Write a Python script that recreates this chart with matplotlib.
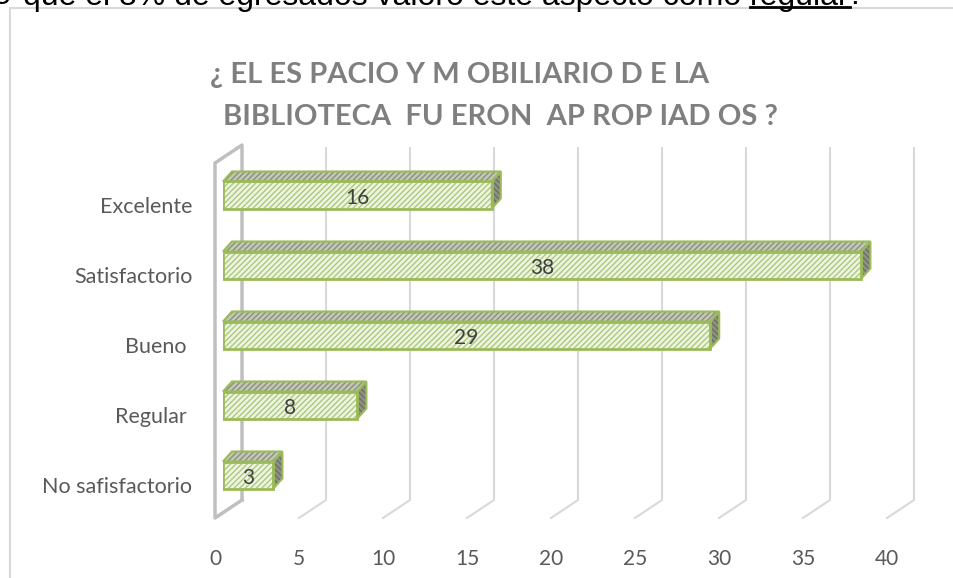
import numpy as np
import matplotlib
matplotlib.use("Agg")
import matplotlib.pyplot as plt
from matplotlib.patches import Polygon, Rectangle
from matplotlib.transforms import ScaledTranslation

# datos
categorias = ["No safisfactorio", "Regular ", "Bueno ", "Satisfactorio", "Excelente"]
valores = [3, 8, 29, 38, 16]
ticks_x = [0, 5, 10, 15, 20, 25, 30, 35, 40]
titulo_1 = "¿ EL ES PACIO Y M OBILIARIO D E LA"
titulo_2 = "BIBLIOTECA  FU ERON  AP ROP IAD OS ?"
texto_ini = "e"
texto_sup = "que el 8% de egresados valoró este aspecto como "
texto_sub = "regular"

W, H = 954, 578
fig = plt.figure(figsize=(W / 100, H / 100), dpi=100)
plt.rcParams['font.family'] = ['Lato', 'DejaVu Sans']

# ejes: x=0 en px 223, 16.8 px por unidad; y: 70 px por categoria
px_x = 16.8
px_y = 70.0
left = 223
bot_px = 475 + 0.5 * px_y
ax = fig.add_axes([left / W, (H - bot_px) / H, 40 * px_x / W, 5 * px_y / H])
ax.set_xlim(0, 40)
ax.set_ylim(-0.5, 4.5)
for s in ax.spines.values():
    s.set_visible(False)
ax.patch.set_alpha(0)

def dpx(x):
    return x / px_x

def dpy(y):
    return y / px_y

# marco del grafico
fig.patches.append(Rectangle((10 / W, -0.1), 1.2, (H - 8) / H + 0.1, transform=fig.transFigure,
                             fill=False, edgecolor='#d9d9d9', linewidth=1.5))

# texto superior cortado
fs_sup = 23
base = 1 - 4.5 / H
fig.text(-7 / W, base, texto_ini, family='Liberation Sans', fontsize=fs_sup, va='baseline', color='black')
t1 = fig.text(23 / W, base, texto_sup, family='Liberation Sans', fontsize=fs_sup,
              va='baseline', ha='left', color='black')
fig.canvas.draw()
bb = t1.get_window_extent()
t2 = fig.text(bb.x1 / W, base, texto_sub, family='Liberation Sans', fontsize=fs_sup,
              va='baseline', ha='left', color='black')
fig.canvas.draw()
bb2 = t2.get_window_extent()
fig.lines.append(plt.Line2D([bb2.x0 / W, bb2.x1 / W], [1 - 6.5 / H, 1 - 6.5 / H],
                            transform=fig.transFigure, color='black', linewidth=2))
fig.text(bb2.x1 / W, base, ".", family='Liberation Sans', fontsize=fs_sup, va='baseline')

# titulo
fig.text(460 / W, 1 - 75 / H, titulo_1, fontsize=21, fontweight='bold', color='#7f7f7f',
         ha='center', va='center')
fig.text(500 / W, 1 - 117 / H, titulo_2, fontsize=21, fontweight='bold', color='#7f7f7f',
         ha='center', va='center')

# pared y cuadricula (plano trasero)
y_top_back = (475 - 148) / px_y
y_bot_back = (475 - 500) / px_y
y_bot_front = (475 - 518) / px_y
dxb = dpx(19)
dxf = dpx(-8)
for t in ticks_x[1:]:
    ax.plot([t + dxb, t + dxb, t + dxf], [y_top_back, y_bot_back, y_bot_front],
            color='#d9d9d9', linewidth=1.5, clip_on=False, zorder=1)
# pared lateral
y_top_front = (475 - 163) / px_y
y_top_back2 = (475 - 145) / px_y
ax.plot([dxb, dxb, dxf, dxf, dxb], [y_bot_back, y_top_back2, y_top_front, y_bot_front, y_bot_back],
        color='#bfbfbf', linewidth=2.5, clip_on=False, zorder=1)

# barras 3D
alto = 27 / px_y
ox, oy = dpx(9), dpy(10)
for i, v in enumerate(valores):
    y0, y1 = i - alto / 2, i + alto / 2
    top = Polygon([(0, y1), (v, y1), (v + ox, y1 + oy), (ox, y1 + oy)], closed=True,
                  facecolor='#c2c7b6', edgecolor='#8a8f80', hatch='//////', linewidth=0,
                  zorder=3, clip_on=False)
    side = Polygon([(v, y0), (v, y1), (v + ox, y1 + oy), (v + ox, y0 + oy)], closed=True,
                   facecolor='#8d9283', edgecolor='#6a6f62', hatch='\\\\\\\\\\\\', linewidth=0,
                   zorder=3, clip_on=False)
    ax.add_patch(top)
    ax.add_patch(side)
    for pts in ([(0, y1), (v, y1), (v + ox, y1 + oy), (ox, y1 + oy)],
                [(v, y0), (v, y1), (v + ox, y1 + oy), (v + ox, y0 + oy)]):
        ax.add_patch(Polygon(pts, closed=True, fill=False, edgecolor='#9bbb59',
                             linewidth=1.5, zorder=4, clip_on=False))
ax.barh(range(len(valores)), valores, height=alto, color='#eef4e2', edgecolor='#adc97c',
        hatch='//////', linewidth=0, zorder=3)
ax.barh(range(len(valores)), valores, height=alto, fill=False, edgecolor='#9bbb59',
        linewidth=2, zorder=4)

for i, v in enumerate(valores):
    ax.text(v / 2, i - dpy(3), str(v), ha='center', va='center', fontsize=15,
            color='#404040', zorder=5)

# ejes
ax.set_xticks(ticks_x)
ax.set_xticklabels([str(t) for t in ticks_x], fontsize=15, color='#595959')
ax.tick_params(axis='x', length=0, pad=28)
for lbl in ax.get_xticklabels():
    lbl.set_transform(lbl.get_transform() + ScaledTranslation(-8 / 100, 0, fig.dpi_scale_trans))
ax.set_yticks(range(len(categorias)))
ax.set_yticklabels(categorias, fontsize=15.5, color='#595959')
ax.tick_params(axis='y', length=0, pad=22)
for lbl in ax.get_yticklabels():
    lbl.set_transform(lbl.get_transform() + ScaledTranslation(0, -10 / 100, fig.dpi_scale_trans))

fig.savefig("out.png", dpi=100)
